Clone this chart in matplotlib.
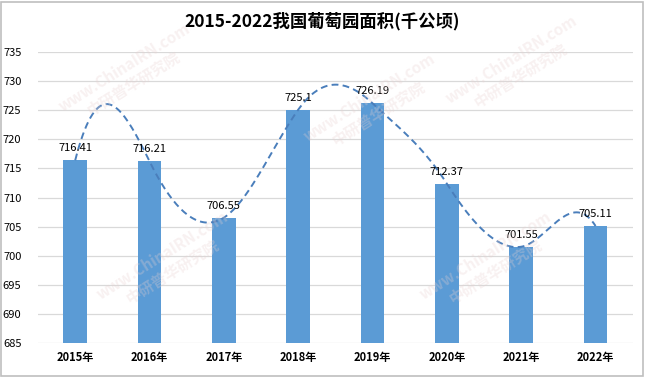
import matplotlib.pyplot as plt
import numpy as np
from matplotlib.patches import Rectangle

plt.rcParams["font.family"] = ["Noto Sans CJK SC", "DejaVu Sans"]

years = ["2015年", "2016年", "2017年", "2018年", "2019年", "2020年", "2021年", "2022年"]
area = [716.41, 716.21, 706.55, 725.1, 726.19, 712.37, 701.55, 705.11]
# slopes of the dashed smooth curve at each bar top (units per category)
curve_slopes = [50, -26, 8, 18, -12, -20, 2, -20]
yticks = list(range(685, 736, 5))

fig = plt.figure(figsize=(6.45, 3.77), dpi=100)
ax = fig.add_axes([0.059, 0.090, 0.922, 0.772])

x = np.arange(len(years))
ax.bar(x, area, width=0.32, color="#5B9BD5", zorder=2)

# smooth dashed trend through the bar tops (cubic Hermite)
xs, ys = [], []
for i in range(len(area) - 1):
    t = np.linspace(0, 1, 40)
    h00 = 2 * t**3 - 3 * t**2 + 1
    h10 = t**3 - 2 * t**2 + t
    h01 = -2 * t**3 + 3 * t**2
    h11 = t**3 - t**2
    xs.append(i + t)
    ys.append(h00 * area[i] + h10 * curve_slopes[i] + h01 * area[i + 1] + h11 * curve_slopes[i + 1])
ax.plot(np.concatenate(xs), np.concatenate(ys), color="#4A7EBB", lw=1.4,
        ls=(0, (3.5, 2.2)), zorder=3)

for xi, v in zip(x, area):
    ax.text(xi, v + 1.2, f"{v:g}", ha="center", va="bottom", fontsize=8, color="black", zorder=4)

ax.set_xlim(-0.5, len(years) - 0.5)
ax.set_ylim(685, 735)
ax.set_yticks(yticks)
ax.set_xticks(x)
ax.set_xticklabels(years, fontweight="bold")
ax.tick_params(axis="y", length=0, pad=12, labelsize=8)
ax.tick_params(axis="x", length=0, pad=6, labelsize=8)
ax.grid(axis="y", color="#D9D9D9", lw=0.9, zorder=0)
for s in ax.spines.values():
    s.set_visible(False)

# faint watermarks
for (wx, wy) in [(0.2, 0.80), (0.26, 0.30), (0.58, 0.72), (0.8, 0.82), (0.76, 0.30)]:
    fig.text(wx, wy, "www.ChinaIRN.com\n中研普华研究院", rotation=32, ha="center", va="center",
             fontsize=11, fontweight="bold", color="#E8D0D0", alpha=0.3, zorder=0)

fig.text(0.5, 0.945, "2015-2022我国葡萄园面积(千公顷)", ha="center", va="center",
         fontsize=12.5, fontweight="bold")
fig.patches.append(Rectangle((0.002, 0.003), 0.995, 0.993, transform=fig.transFigure,
                             fill=False, edgecolor="#BFBFBF", lw=1.2))

fig.savefig("out.png", dpi=100)
